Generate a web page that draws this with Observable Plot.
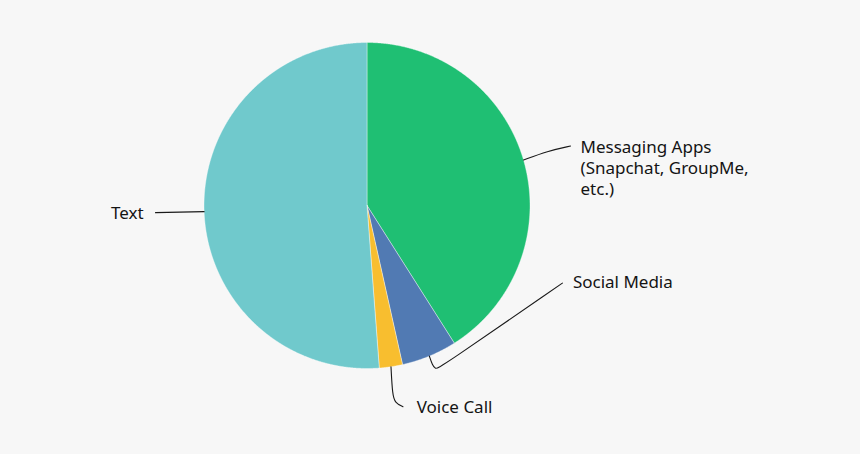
<!DOCTYPE html>
<html><head><meta charset="utf-8">
<script src="https://cdn.jsdelivr.net/npm/d3@7"></script>
<script src="https://cdn.jsdelivr.net/npm/@observablehq/plot@0.6"></script>
<style>
html,body{margin:0;padding:0;background:#f7f7f7;}
#chart{width:860px;height:454px;}
</style></head><body><div id="chart"></div>
<script>
// ---- data ----
const categories = ["Messaging Apps", "Social Media", "Voice Call", "Text"];
const labelTexts = ["Messaging Apps\n(Snapchat, GroupMe,\netc.)", "Social Media", "Voice Call", "Text"];
const shares = [41.0, 5.5, 2.3, 51.2];
const colors = ["#1fbf73", "#517ab3", "#f8be2f", "#70c9cc"];

// ---- layout (pixels) ----
const W = 860, H = 454, CX = 366.5, CY = 205, R = 163, FS = 17;
// leader waypoints (offsets from slice's mid-arc point) and label anchor offsets
const leaderWaypoints = [
  [[0,0],[24,-9],[47,-14]],
  [[0,0],[3,9],[6,13],[10,12],[133,-73]],
  [[0,0],[1.5,28],[4,36],[12,40]],
  [[0,0],[-48.6,1]]
];
const labelOffsets = [[57,-22],[143.5,-83],[25.7,31.5],[-60.6,-7.5]];
const labelAnchors = ["start","start","start","end"];

// ---- geometry from data ----
const arcs = d3.pie().sort(null).value((d, i) => shares[i])(categories);
const slicePts = [];
arcs.forEach((a, i) => {
  const cat = categories[i];
  const n = Math.max(2, Math.ceil((a.endAngle - a.startAngle) / 0.004));
  slicePts.push({cat, x: 0, y: 0});
  for (let k = 0; k <= n; k++) {
    const t = a.startAngle + (a.endAngle - a.startAngle) * k / n;
    slicePts.push({cat, x: Math.sin(t), y: -Math.cos(t)});
  }
  slicePts.push({cat, x: 0, y: 0});
});
const leaderPts = [];
const labelRows = [];
arcs.forEach((a, i) => {
  const mid = (a.startAngle + a.endAngle) / 2;
  const mx = Math.sin(mid), my = -Math.cos(mid);
  leaderWaypoints[i].forEach(([dx, dy]) => leaderPts.push({cat: categories[i], x: mx + dx / R, y: my + dy / R}));
  labelRows.push({
    cat: categories[i], text: labelTexts[i], anchor: labelAnchors[i],
    x: mx + labelOffsets[i][0] / R,
    y: my + labelOffsets[i][1] / R
  });
});

const font = "'Noto Sans', 'DejaVu Sans', sans-serif";
const chart = Plot.plot({
  width: W, height: H,
  margin: 0,
  style: {background: "#f7f7f7", fontFamily: font},
  x: {domain: [-CX / R, (W - CX) / R], range: [0, W], axis: null},
  y: {domain: [-CY / R, (H - CY) / R], range: [0, H], axis: null},
  color: {domain: categories, range: colors},
  marks: [
    Plot.line(slicePts, {x: "x", y: "y", z: "cat", fill: "cat", stroke: "#ffffff", strokeWidth: 0.7, strokeOpacity: 0.55, curve: "linear"}),
    Plot.line(leaderPts, {x: "x", y: "y", z: "cat", stroke: "#1a1a1a", strokeWidth: 1.1, curve: "basis"}),
    Plot.text(labelRows.filter(d => d.anchor === "start"), {x: "x", y: "y", text: "text", textAnchor: "start", lineAnchor: "top", fontSize: FS, lineHeight: 1.24, fill: "#141414"}),
    Plot.text(labelRows.filter(d => d.anchor === "end"), {x: "x", y: "y", text: "text", textAnchor: "end", lineAnchor: "top", fontSize: FS, lineHeight: 1.24, fill: "#141414"})
  ]
});
document.getElementById("chart").appendChild(chart);
</script>
</body></html>
